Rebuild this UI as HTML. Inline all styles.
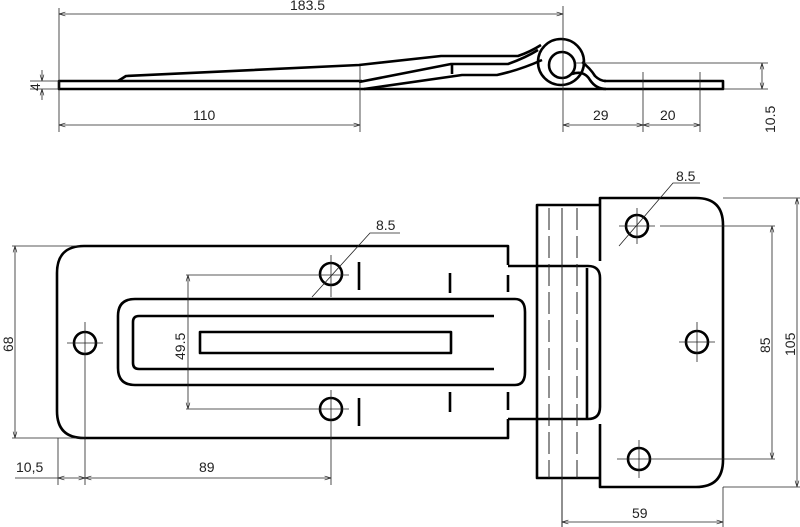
<!DOCTYPE html>
<html><head><meta charset="utf-8"><style>
html,body{margin:0;padding:0;background:#fff;}
svg{display:block;}
text{font-family:"Liberation Sans",sans-serif;font-size:14px;fill:#222;}
</style></head><body>
<svg width="800" height="527" viewBox="0 0 800 527" xmlns="http://www.w3.org/2000/svg">
<defs>
<marker id="a" viewBox="0 0 10 10" refX="10" refY="5" markerWidth="8" markerHeight="8" orient="auto-start-reverse"><path d="M0,2 L10,5 L0,8" fill="none" stroke="#222" stroke-width="1"/></marker>
</defs>
<!-- TOP VIEW -->
<g fill="none" stroke="#000" stroke-width="2.6" stroke-linejoin="round">
<path d="M362,81 L59,81 L59,89 L723,89 L723,81 L604,81"/>
<path d="M118,81 L126,76 L359,65 L441,56 L518,56 Q530,52 541,45"/>
<path d="M359,82 L451,64 L508,64 Q525,58 538,50"/>
<path d="M364,89 L462,75 L497,75 Q520,70 542,60"/>
<line x1="452" y1="65" x2="452" y2="74"/>
<circle cx="561" cy="62" r="23"/>
<circle cx="562" cy="65" r="13"/>
<path d="M572,74 Q584,70 590,80 Q596,89 606,89"/>
<path d="M582,62 Q590,68 595,76 Q600,81 606,81"/>
</g>
<g stroke="#222" stroke-width="0.8" fill="none">
<line x1="59" y1="8" x2="59" y2="132"/><line x1="360" y1="66" x2="360" y2="132"/>
<line x1="563" y1="6" x2="563" y2="132"/><line x1="643" y1="72" x2="643" y2="132"/><line x1="700" y1="72" x2="700" y2="132"/>
<line x1="575" y1="63" x2="768" y2="63"/><line x1="723" y1="89" x2="768" y2="89"/>
<line x1="30" y1="81" x2="59" y2="81"/><line x1="30" y1="89" x2="59" y2="89"/>
<line x1="59" y1="14" x2="563" y2="14" marker-start="url(#a)" marker-end="url(#a)"/>
<line x1="59" y1="125" x2="360" y2="125" marker-start="url(#a)" marker-end="url(#a)"/>
<line x1="563" y1="125" x2="643" y2="125" marker-start="url(#a)" marker-end="url(#a)"/>
<line x1="643" y1="125" x2="700" y2="125" marker-start="url(#a)" marker-end="url(#a)"/>
<line x1="762" y1="63" x2="762" y2="89" marker-start="url(#a)" marker-end="url(#a)"/>
<line x1="42" y1="70" x2="42" y2="81" marker-end="url(#a)"/><line x1="42" y1="100" x2="42" y2="89" marker-end="url(#a)"/>
</g>
<text x="290" y="10">183.5</text>
<text x="193" y="120">110</text>
<text x="593" y="120">29</text>
<text x="660" y="120">20</text>
<text transform="translate(775,133) rotate(-90)">10.5</text>
<text transform="translate(40,91) rotate(-90)">4</text>

<!-- FRONT VIEW -->
<g fill="none" stroke="#000" stroke-width="2.6" stroke-linejoin="round">
<path d="M508,265 L508,246 L84,246 Q57,246 57,273 L57,411 Q57,438 84,438 L508,438 L508,419"/>
<path d="M508,266 L588,266 Q600,266 600,278 L600,407 Q600,419 588,419 L508,419"/>
<line x1="587" y1="268" x2="587" y2="418"/>
<path d="M600,261 L600,198 L696,198 Q723,198 723,225 L723,460 Q723,487 696,487 L600,487 L600,424"/>
<path d="M600,205 L537,205 L537,478 L600,478"/>
<path d="M515,299 L135,299 Q118,299 118,316 L118,368 Q118,385 135,385 L515,385 Q525,385 525,372 L525,312 Q525,299 515,299"/>
<path d="M494,316 L139,316 Q133,316 133,322 L133,363 Q133,369 139,369 L494,369"/>
<rect x="200" y="332" width="251" height="21"/>
<circle cx="85" cy="343" r="11"/><circle cx="331" cy="274" r="11"/><circle cx="331" cy="409" r="11"/>
<circle cx="637" cy="226" r="11"/><circle cx="697" cy="342" r="11"/><circle cx="639" cy="459" r="11"/>
<line x1="359" y1="262" x2="359" y2="290"/><line x1="359" y1="398" x2="359" y2="426"/>
<line x1="450" y1="273" x2="450" y2="293"/><line x1="450" y1="392" x2="450" y2="412"/>
<line x1="508" y1="275" x2="508" y2="292" /><line x1="508" y1="392" x2="508" y2="410"/>
</g>
<g stroke="#222" stroke-width="1" fill="none">
<line x1="549" y1="208" x2="549" y2="478" stroke-dasharray="22,6"/>
<line x1="562" y1="208" x2="562" y2="527"/>
<line x1="577" y1="208" x2="577" y2="478" stroke-dasharray="22,6"/>
</g>
<g stroke="#222" stroke-width="0.8" fill="none">
<line x1="67" y1="343" x2="103" y2="343"/><line x1="85" y1="322" x2="85" y2="485"/>
<line x1="331" y1="255" x2="331" y2="297"/><line x1="331" y1="390" x2="331" y2="485"/>
<line x1="186" y1="275" x2="349" y2="275"/><line x1="186" y1="409" x2="349" y2="409"/>
<line x1="188" y1="275" x2="188" y2="409" marker-start="url(#a)" marker-end="url(#a)"/>
<line x1="12" y1="246" x2="80" y2="246"/><line x1="12" y1="438" x2="84" y2="438"/>
<line x1="15" y1="246" x2="15" y2="438" marker-start="url(#a)" marker-end="url(#a)"/>
<line x1="58" y1="438" x2="58" y2="485"/>
<line x1="15" y1="478" x2="58" y2="478"/>
<line x1="58" y1="478" x2="85" y2="478" marker-start="url(#a)" marker-end="url(#a)"/>
<line x1="85" y1="478" x2="331" y2="478" marker-start="url(#a)" marker-end="url(#a)"/>
<path d="M312,297 L370,233 L400,233"/>
<line x1="619" y1="226" x2="655" y2="226"/><line x1="637" y1="208" x2="637" y2="244"/>
<line x1="660" y1="226" x2="775" y2="226"/>
<line x1="679" y1="342" x2="715" y2="342"/><line x1="697" y1="322" x2="697" y2="362"/>
<line x1="617" y1="459" x2="775" y2="459"/><line x1="639" y1="440" x2="639" y2="478"/>
<line x1="723" y1="198" x2="800" y2="198"/><line x1="723" y1="487" x2="800" y2="487"/>
<line x1="772" y1="226" x2="772" y2="459" marker-start="url(#a)" marker-end="url(#a)"/>
<line x1="797" y1="198" x2="797" y2="487" marker-start="url(#a)" marker-end="url(#a)"/>
<path d="M619,246 L673,183 L700,183"/>
<line x1="723" y1="487" x2="723" y2="527"/>
<line x1="562" y1="522" x2="723" y2="522" marker-start="url(#a)" marker-end="url(#a)"/>
</g>
<text x="376" y="230">8.5</text>
<text x="676" y="181">8.5</text>
<text transform="translate(185,360) rotate(-90)">49.5</text>
<text transform="translate(13,352) rotate(-90)">68</text>
<text transform="translate(770,353) rotate(-90)">85</text>
<text transform="translate(795,356) rotate(-90)">105</text>
<text x="16" y="472">10,5</text>
<text x="199" y="472">89</text>
<text x="632" y="518">59</text>
</svg>
</body></html>
